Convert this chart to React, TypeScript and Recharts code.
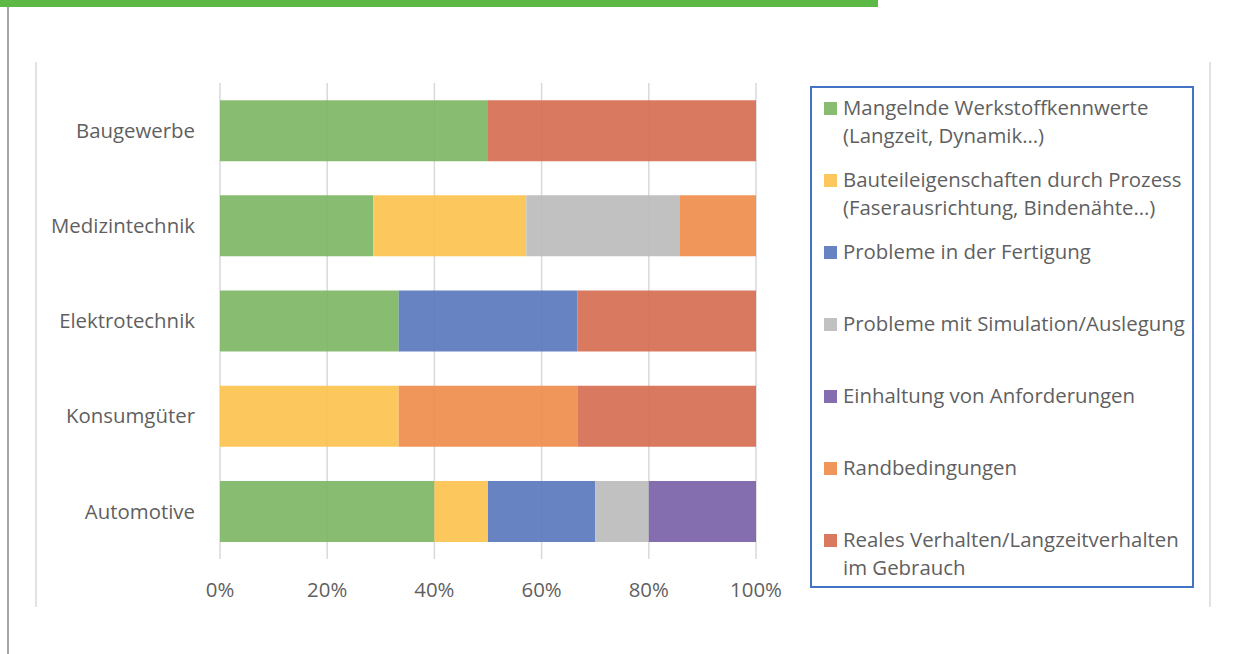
import { Bar, BarChart, CartesianGrid, XAxis, YAxis } from "recharts";

// Branchen (Kategorienachse, von oben nach unten)
const categories = [
  "Baugewerbe",
  "Medizintechnik",
  "Elektrotechnik",
  "Konsumgüter",
  "Automotive",
];

// Nennungen je Branche, werden auf 100 % normiert
const werkstoffkennwerte = [1, 2, 1, 0, 4];
const bauteileigenschaften = [0, 2, 0, 1, 1];
const fertigung = [0, 0, 1, 0, 2];
const simulation = [0, 2, 0, 0, 1];
const anforderungen = [0, 0, 0, 0, 2];
const randbedingungen = [0, 1, 0, 1, 0];
const realesVerhalten = [1, 0, 1, 1, 0];

const percentTicks = [0, 0.2, 0.4, 0.6, 0.8, 1];

const series = [
  {
    key: "werkstoff",
    label: ["Mangelnde Werkstoffkennwerte", "(Langzeit, Dynamik…)"],
    color: "#7BB662",
    values: werkstoffkennwerte,
  },
  {
    key: "bauteil",
    label: ["Bauteileigenschaften durch Prozess", "(Faserausrichtung, Bindenähte…)"],
    color: "#FCC24B",
    values: bauteileigenschaften,
  },
  {
    key: "fertigung",
    label: ["Probleme in der Fertigung"],
    color: "#5876BB",
    values: fertigung,
  },
  {
    key: "simulation",
    label: ["Probleme mit Simulation/Auslegung"],
    color: "#B9BAB9",
    values: simulation,
  },
  {
    key: "anforderungen",
    label: ["Einhaltung von Anforderungen"],
    color: "#785EA6",
    values: anforderungen,
  },
  {
    key: "rand",
    label: ["Randbedingungen"],
    color: "#F08B49",
    values: randbedingungen,
  },
  {
    key: "verhalten",
    label: ["Reales Verhalten/Langzeitverhalten", "im Gebrauch"],
    color: "#D56A4F",
    values: realesVerhalten,
  },
];

const data = categories.map((name, i) => {
  const row: Record<string, string | number> = { name };
  series.forEach((s) => {
    row[s.key] = s.values[i];
  });
  return row;
});

const FONT = "'Open Sans', sans-serif";
const FONT_SIZE = 20.4;
const TEXT = "#5F5F5F";
const BAR_OPACITY = 0.9;

function LegendBox() {
  return (
    <div
      style={{
        position: "absolute",
        left: 810,
        top: 86,
        width: 384,
        height: 502,
        boxSizing: "border-box",
        border: "2px solid #4472C4",
        padding: "5px 0 0 12px",
        fontFamily: FONT,
        fontSize: FONT_SIZE,
        color: TEXT,
      }}
    >
      {series.map((s) => (
        <div key={s.key} style={{ display: "flex", height: 72 }}>
          <div
            style={{
              width: 13,
              height: 13,
              marginTop: 9,
              marginRight: 6,
              background: s.color,
              opacity: BAR_OPACITY,
              flexShrink: 0,
            }}
          />
          <div style={{ lineHeight: "28px", whiteSpace: "nowrap" }}>
            {s.label.map((line) => (
              <div key={line}>{line}</div>
            ))}
          </div>
        </div>
      ))}
    </div>
  );
}

export default function App() {
  return (
    <div style={{ position: "relative", width: 1243, height: 654, background: "#fff" }}>
      <style>{"body{margin:0}"}</style>
      {/* Kopfleiste und Seitenlinie */}
      <div style={{ position: "absolute", left: 0, top: 0, width: 878, height: 7, background: "#5CB946" }} />
      <div style={{ position: "absolute", left: 7, top: 7, width: 2, height: 647, background: "#A6A6A6" }} />
      {/* Rahmen des Diagrammbereichs */}
      <div style={{ position: "absolute", left: 35, top: 62, width: 2, height: 545, background: "#E3E3E3" }} />
      <div style={{ position: "absolute", left: 1209, top: 62, width: 2, height: 545, background: "#E3E3E3" }} />

      <div style={{ position: "absolute", left: 35, top: 62 }}>
        <BarChart
          width={760}
          height={560}
          data={data}
          layout="vertical"
          stackOffset="expand"
          barCategoryGap="18%"
          margin={{ top: 21, right: 39, bottom: 0, left: 0 }}
        >
          <CartesianGrid horizontal={false} stroke="#D9D9D9" strokeWidth={1.5} />
          <XAxis
            type="number"
            domain={[0, 1]}
            ticks={percentTicks}
            tickFormatter={(v: number) => `${Math.round(v * 100)}%`}
            axisLine={false}
            tickLine={false}
            tickSize={0}
            tickMargin={24}
            height={63}
            tick={{ fill: TEXT, fontSize: FONT_SIZE, fontFamily: FONT }}
          />
          <YAxis
            type="category"
            dataKey="name"
            width={185}
            axisLine={false}
            tickLine={false}
            tickSize={0}
            tickMargin={25}
            tick={{ fill: TEXT, fontSize: FONT_SIZE, fontFamily: FONT }}
          />
          {series.map((s) => (
            <Bar
              key={s.key}
              dataKey={s.key}
              name={s.label.join(" ")}
              stackId="a"
              fill={s.color}
              fillOpacity={BAR_OPACITY}
              isAnimationActive={false}
            />
          ))}
        </BarChart>
      </div>

      <LegendBox />
    </div>
  );
}
